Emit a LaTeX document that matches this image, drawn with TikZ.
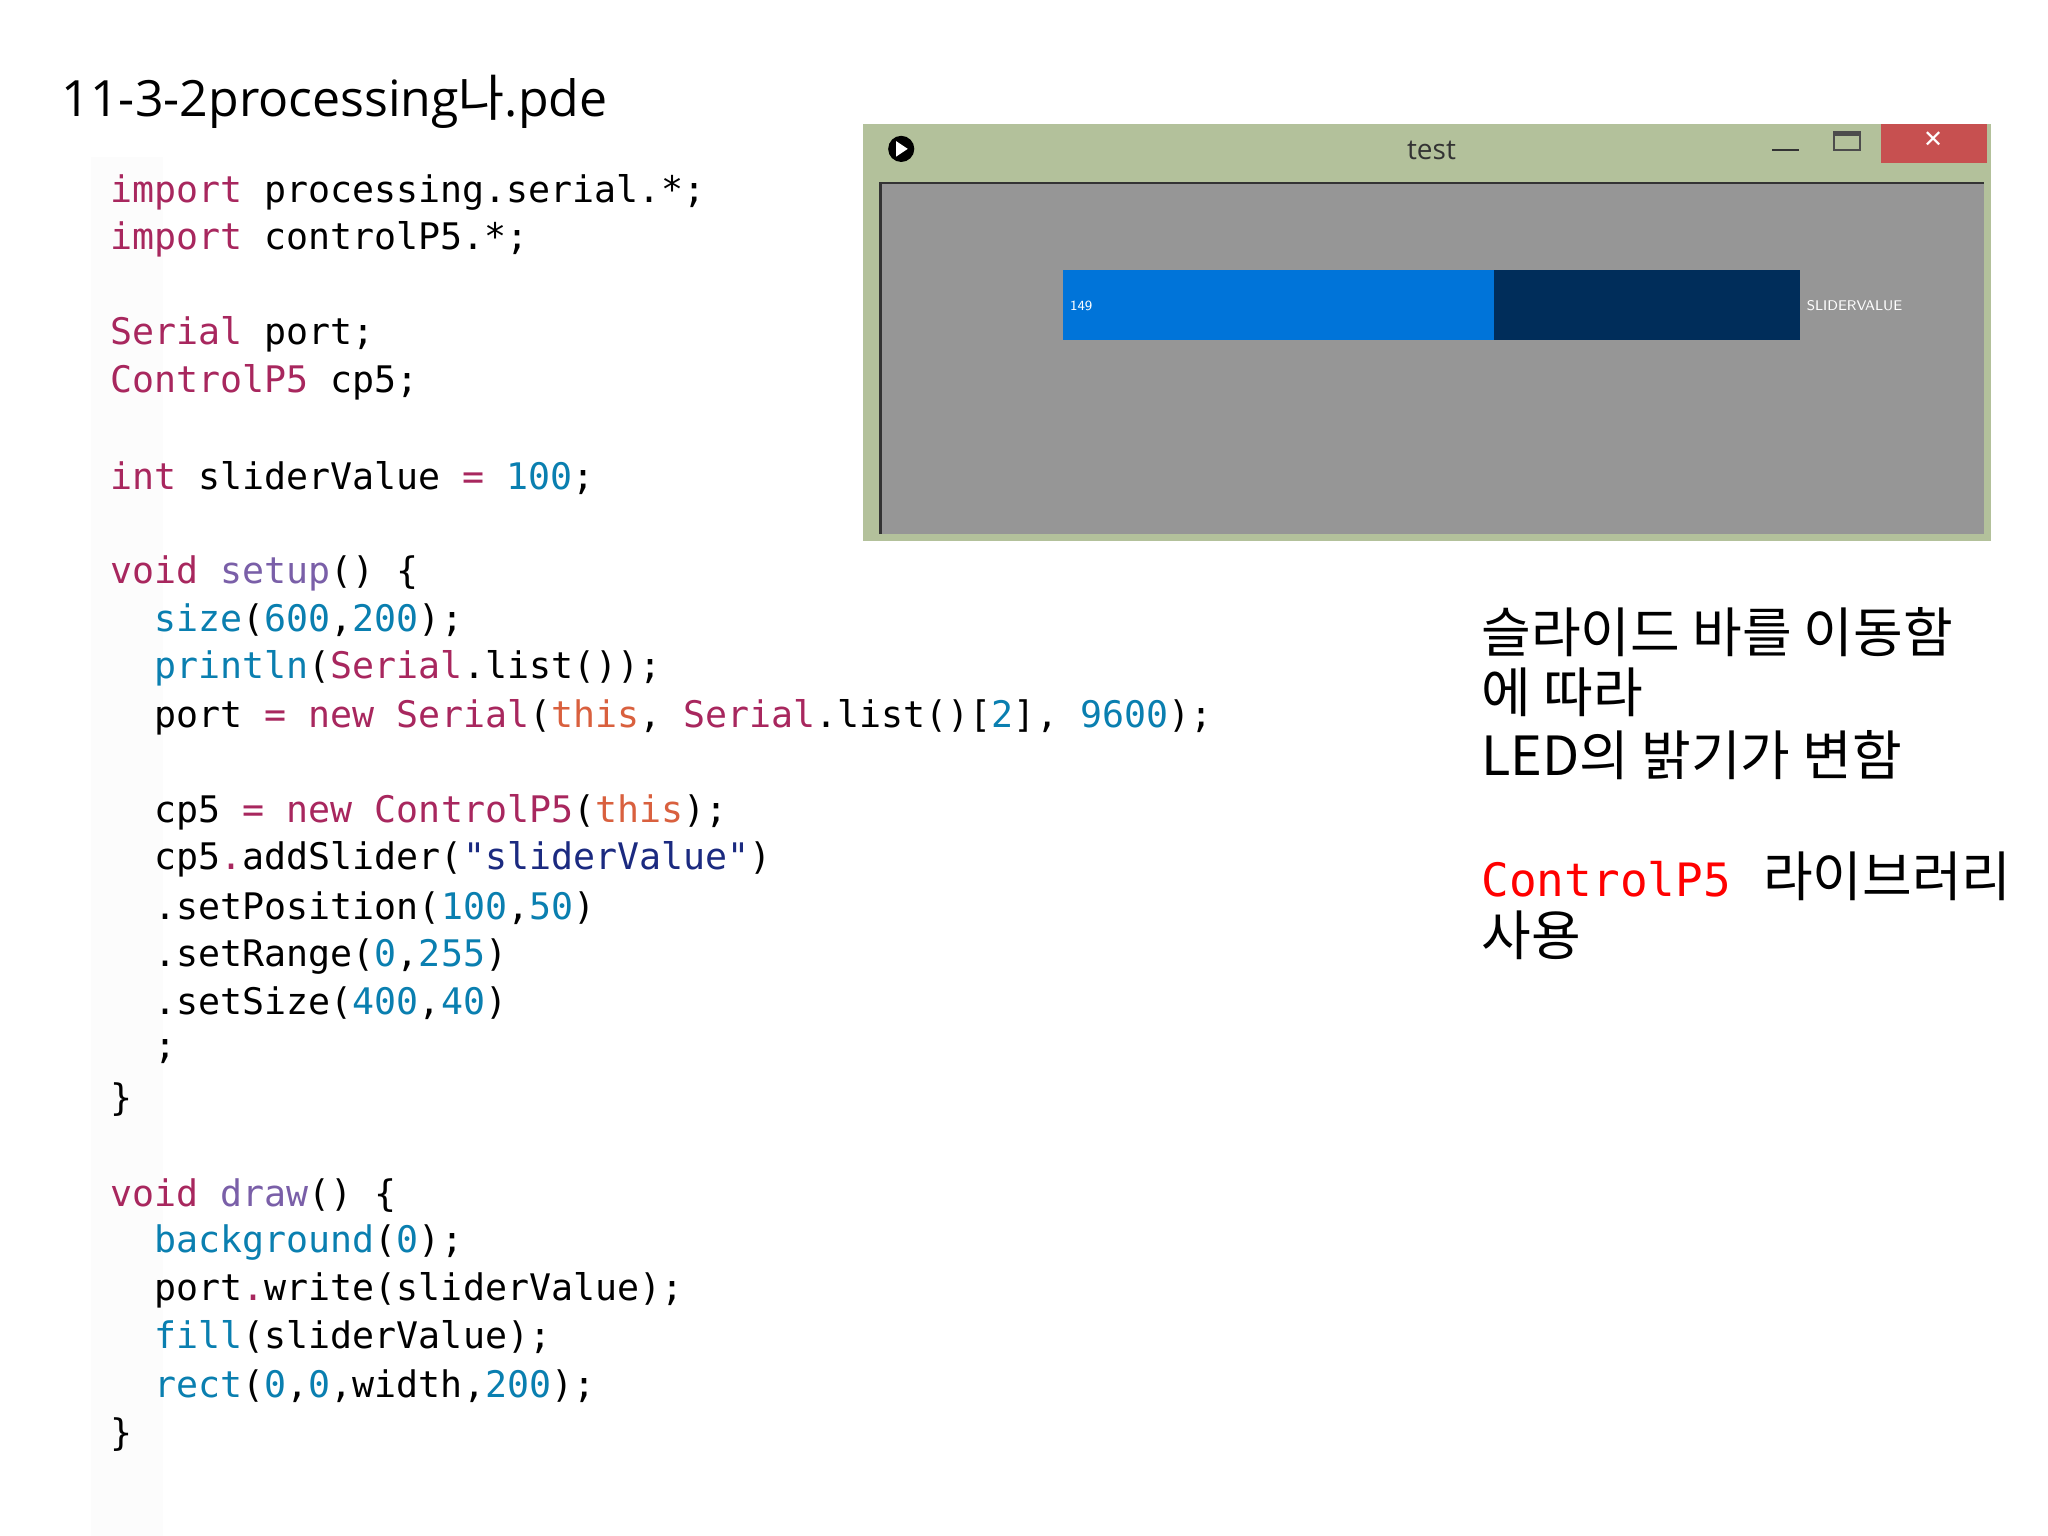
\documentclass[tikz,border=0pt]{standalone}
\usepackage{fontspec}
\setmainfont{Open Sans}
\setmonofont{DejaVu Sans Mono}
\newfontfamily\kr{Noto Sans CJK KR}
\newfontfamily\djsym{DejaVu Sans}
\definecolor{kw}{HTML}{A8275E}
\definecolor{fn}{HTML}{0A7FB0}
\definecolor{num}{HTML}{0A7FB0}
\definecolor{thiscol}{HTML}{D9603E}
\definecolor{str}{HTML}{1B2A80}
\definecolor{pur}{HTML}{7A5FA8}
\definecolor{codebg}{HTML}{FCFCFC}
\newcommand{\K}[1]{\textcolor{kw}{#1}}
\newcommand{\F}[1]{\textcolor{fn}{#1}}
\newcommand{\N}[1]{\textcolor{num}{#1}}
\newcommand{\T}[1]{\textcolor{thiscol}{#1}}
\newcommand{\Sq}[1]{\textcolor{str}{#1}}
\newcommand{\Pu}[1]{\textcolor{pur}{#1}}
\begin{document}
\begin{tikzpicture}[x=0.653pt,y=-0.653pt,
  code/.style={anchor=west,inner sep=0pt,font=\fontsize{18.3}{20}\selectfont\ttfamily},
  rt/.style={anchor=west,inner sep=0pt,font=\fontsize{27}{30}\selectfont\kr}]
\useasboundingbox (0,0) rectangle (1568,1176);
\fill[white] (0,0) rectangle (1568,1176);
\fill[codebg] (70,120) rectangle (125,1176);
\node[anchor=west,inner sep=0pt,font=\fontsize{25}{30}\selectfont] (title) at (47,78) {11-3-2processing{\kr 나}.pde};
% code
\node[code] (l1) at (84,147) {\K{import} processing.serial.*;};
\node[code] (l2) at (84,183) {\K{import} controlP5.*;};
\node[code] (l4) at (84,256) {\K{Serial} port;};
\node[code] (l5) at (84,293) {\K{ControlP5} cp5;};
\node[code] (l7) at (84,366) {\K{int} sliderValue \K{=} \N{100};};
\node[code] (l9) at (84,439) {\K{void} \Pu{setup}() \{};
\node[code] (l10) at (118,475) {\F{size}(\N{600},\N{200});};
\node[code] (l11) at (118,512) {\F{println}(\K{Serial}.list());};
\node[code] (l12) at (118,549) {port \K{=} \K{new} \K{Serial}(\T{this}, \K{Serial}.list()[\N{2}], \N{9600});};
\node[code] (l14) at (118,622) {cp5 \K{=} \K{new} \K{ControlP5}(\T{this});};
\node[code] (l15) at (118,658) {cp5\K{.}addSlider(\Sq{"sliderValue"})};
\node[code] (l16) at (118,695) {.setPosition(\N{100},\N{50})};
\node[code] (l17) at (118,732) {.setRange(\N{0},\N{255})};
\node[code] (l18) at (118,768) {.setSize(\N{400},\N{40})};
\node[code] (l19) at (118,805) {;};
\node[code] (l20) at (84,842) {\}};
\node[code] (l22) at (84,915) {\K{void} \Pu{draw}() \{};
\node[code] (l23) at (118,951) {\F{background}(\N{0});};
\node[code] (l24) at (118,988) {port\K{.}write(sliderValue);};
\node[code] (l25) at (118,1024) {\F{fill}(sliderValue);};
\node[code] (l26) at (118,1061) {\F{rect}(\N{0},\N{0},width,\N{200});};
\node[code] (l27) at (84,1098) {\}};
% window
\fill[fill={rgb,255:red,179;green,193;blue,155}] (661,95) rectangle (1524,414);
\fill[fill={rgb,255:red,150;green,150;blue,150}] (674,140) rectangle (1519,409);
\draw[black!80,line width=1.2pt] (674,409) -- (674,140) -- (1519,140);
\fill[fill={rgb,255:red,199;green,80;blue,80}] (1440,95) rectangle (1521,125);
\node[font=\djsym\bfseries\fontsize{12}{13}\selectfont,text=white] (cls) at (1480,107) {✕};
\node[font=\fontsize{14}{16}\selectfont,text=black!80] (wt) at (1096,115) {test};
\fill[black] (690,114) circle (10);
\fill[white] (686,108) -- (695,114) -- (686,120) -- cycle;
\draw[black!80,line width=1.2pt] (1357,115) -- (1377,115);
\draw[black!70,line width=0.8pt] (1404,101) rectangle (1424,115);
\fill[black!70] (1404,101) rectangle (1424,104);
\fill[fill={rgb,255:red,0;green,116;blue,217}] (814,207) rectangle (1144,260);
\fill[fill={rgb,255:red,0;green,45;blue,90}] (1144,207) rectangle (1378,260);
\node[anchor=west,inner sep=0pt,text=white,font=\sffamily\fontsize{7}{8}\selectfont] (v) at (819,234) {149};
\node[anchor=west,inner sep=0pt,text=white,font=\sffamily\fontsize{7}{8}\selectfont] (sv) at (1383,234) {SLIDERVALUE};
% right text
\node[rt] (r1) at (1134,484) {슬라이드 바를 이동함};
\node[rt] (r2) at (1134,530) {에 따라};
\node[rt] (r3) at (1134,578) {LED의 밝기가 변함};
\node[rt] (r4) at (1134,671) {\textcolor{red}{\ttfamily\fontsize{23}{26}\selectfont ControlP5}\hspace{0.6em}라이브러리};
\node[rt] (r5) at (1134,716) {사용};
\end{tikzpicture}
\end{document}
